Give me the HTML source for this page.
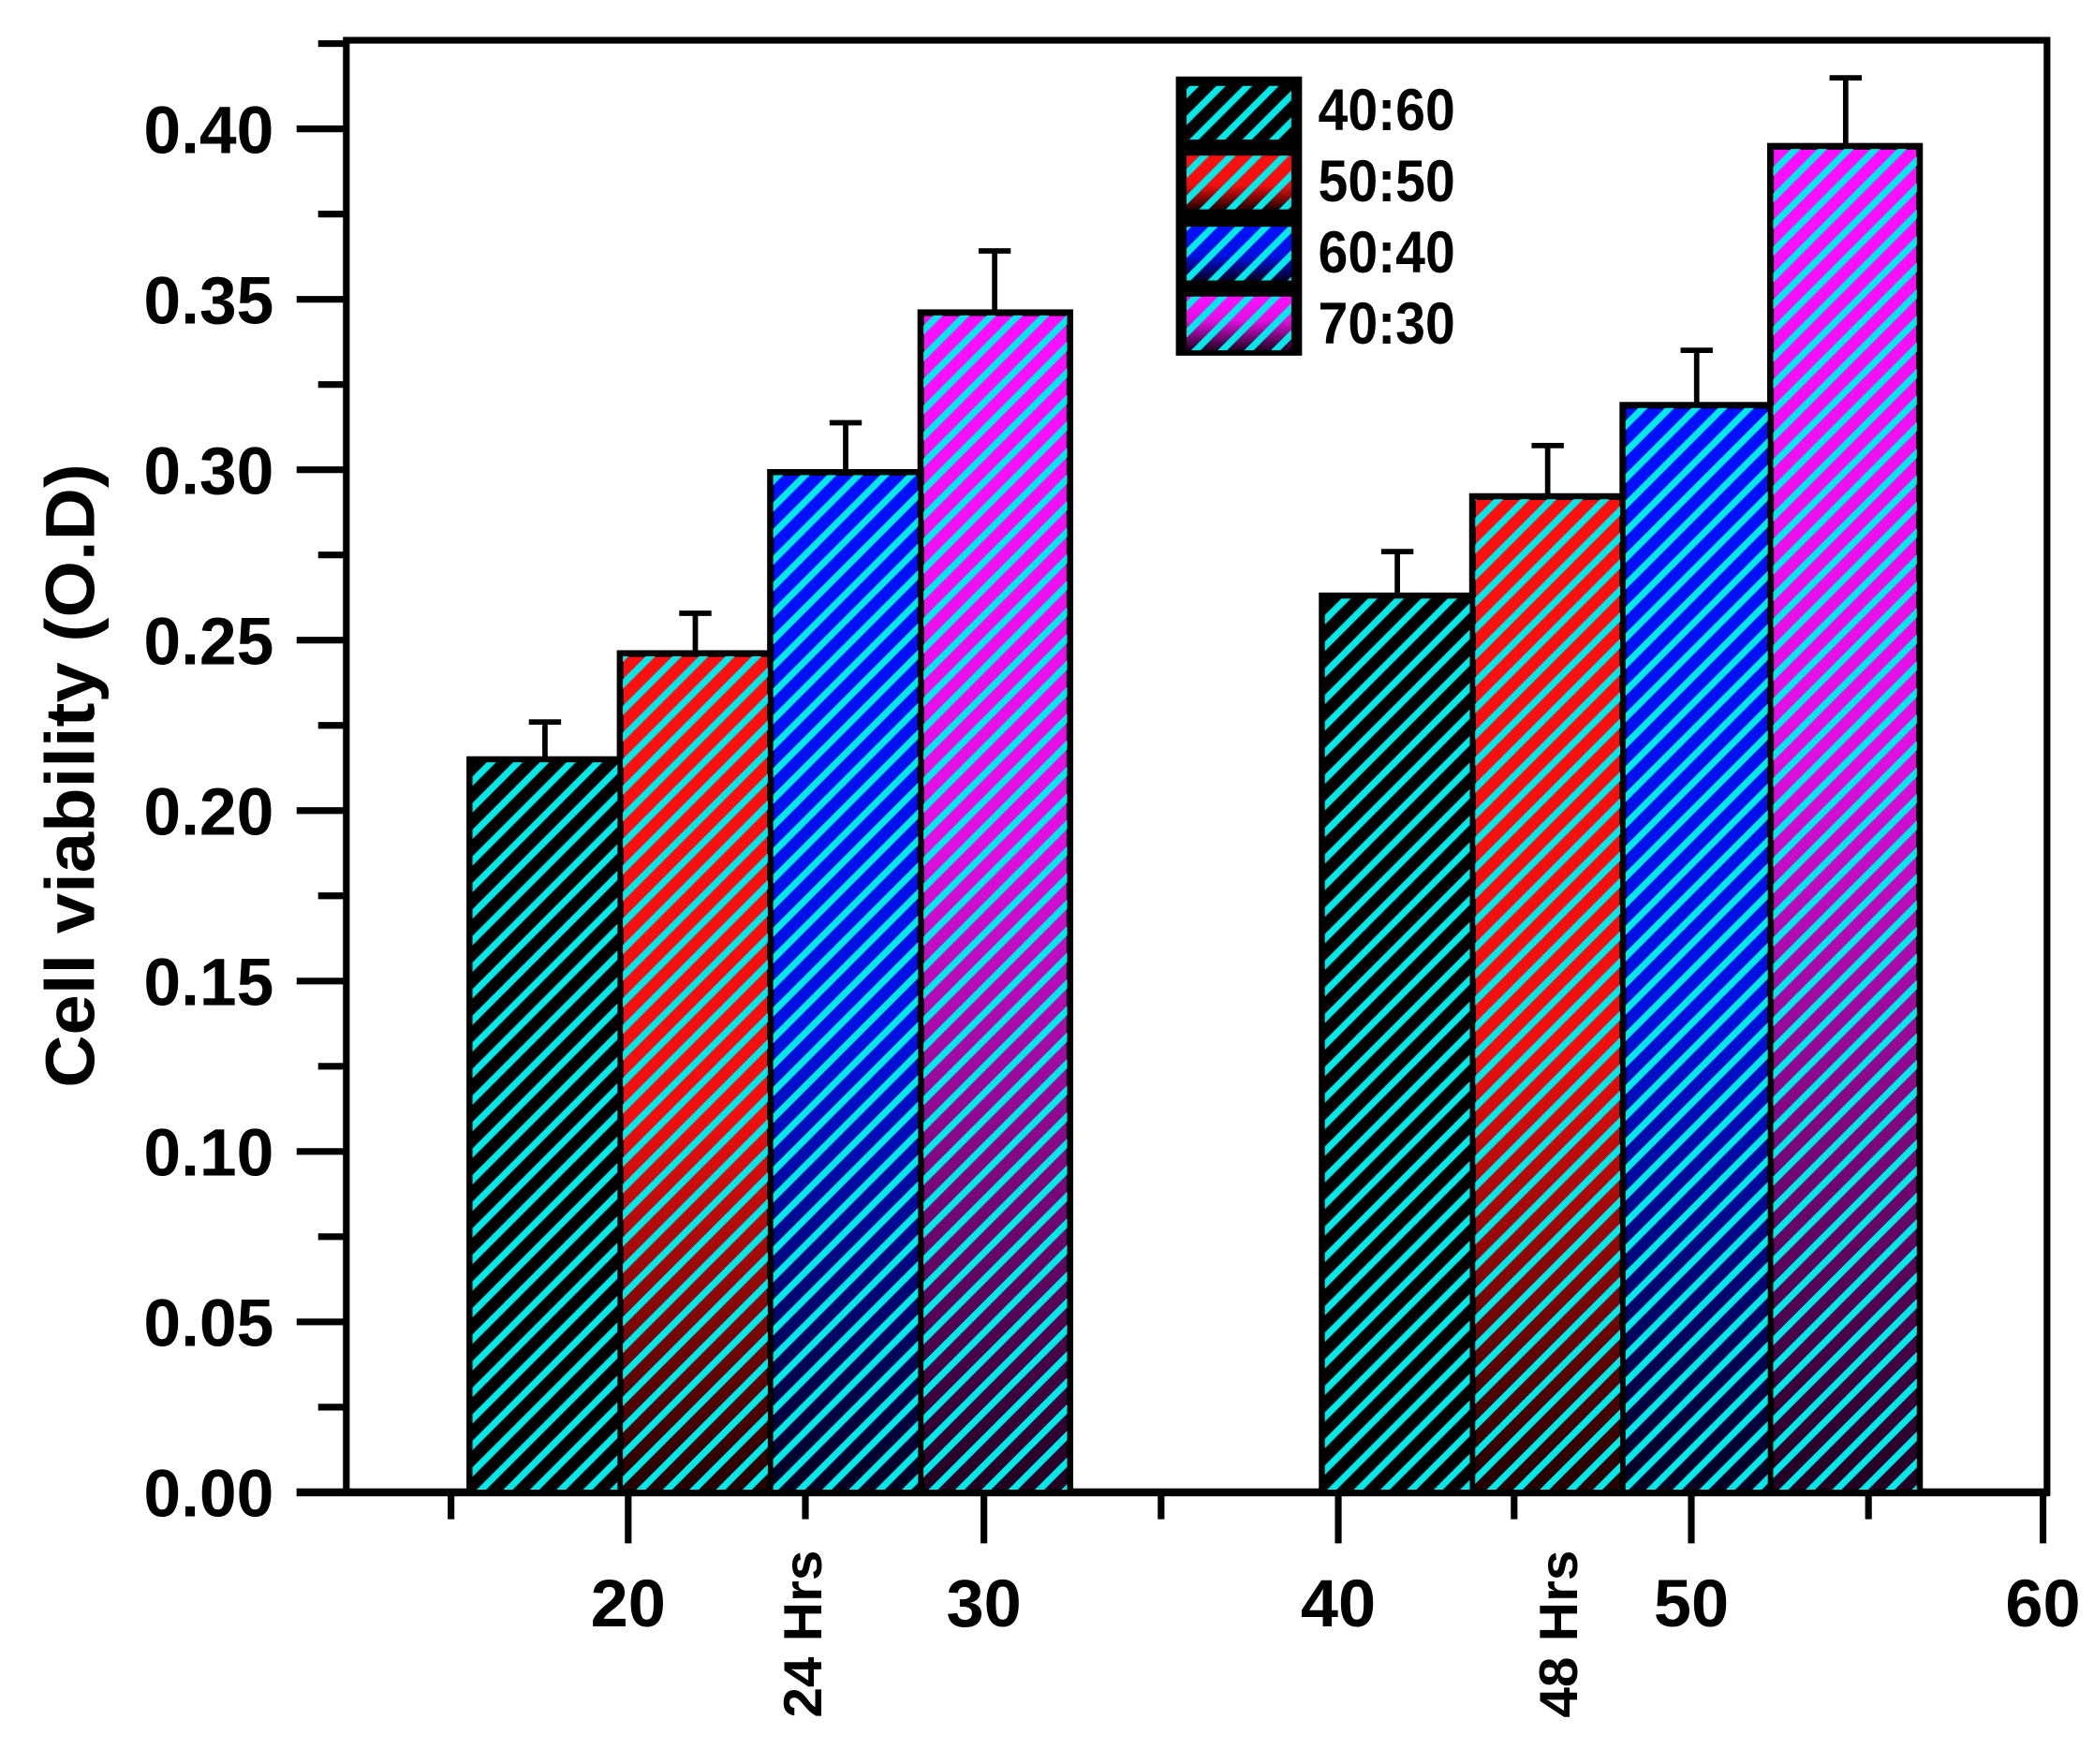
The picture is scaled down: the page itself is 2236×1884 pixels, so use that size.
<!DOCTYPE html>
<html><head><meta charset="utf-8"><style>html,body{margin:0;padding:0;background:#fff}svg{display:block}</style></head>
<body>
<svg width="2236" height="1884" viewBox="0 0 1560 1314.4" xmlns="http://www.w3.org/2000/svg" font-family="Liberation Sans, Arial, sans-serif" font-weight="bold">
<defs>
<pattern id="h" patternUnits="userSpaceOnUse" width="14" height="14" patternTransform="rotate(45)">
<rect x="0" y="0" width="5" height="14" fill="#00e8e8"/>
</pattern>
<linearGradient id="gr" x1="0" y1="0" x2="0" y2="1"><stop offset="0" stop-color="#ff1010"/><stop offset="0.55" stop-color="#f01010"/><stop offset="1" stop-color="#200000"/></linearGradient>
<linearGradient id="gb" x1="0" y1="0" x2="0" y2="1"><stop offset="0" stop-color="#0010ff"/><stop offset="0.55" stop-color="#0010e0"/><stop offset="1" stop-color="#000020"/></linearGradient>
<linearGradient id="gm" x1="0" y1="0" x2="0" y2="1"><stop offset="0" stop-color="#ff10ff"/><stop offset="0.45" stop-color="#e010e0"/><stop offset="1" stop-color="#200020"/></linearGradient>
</defs>
<rect width="1560" height="1315" fill="#fff"/>
<rect x="258" y="30" width="1267" height="1082" fill="none" stroke="#000" stroke-width="5"/>
<line x1="221" y1="1112" x2="1527" y2="1112" stroke="#000" stroke-width="6"/>
<g stroke="#000" stroke-width="5">
<line x1="221" y1="1112" x2="258" y2="1112"/><line x1="237" y1="1048.5" x2="258" y2="1048.5"/>
<line x1="221" y1="985" x2="258" y2="985"/><line x1="237" y1="921.5" x2="258" y2="921.5"/>
<line x1="221" y1="858" x2="258" y2="858"/><line x1="237" y1="794.5" x2="258" y2="794.5"/>
<line x1="221" y1="731" x2="258" y2="731"/><line x1="237" y1="667.5" x2="258" y2="667.5"/>
<line x1="221" y1="604" x2="258" y2="604"/><line x1="237" y1="540.5" x2="258" y2="540.5"/>
<line x1="221" y1="477" x2="258" y2="477"/><line x1="237" y1="413.5" x2="258" y2="413.5"/>
<line x1="221" y1="350" x2="258" y2="350"/><line x1="237" y1="286.5" x2="258" y2="286.5"/>
<line x1="221" y1="223" x2="258" y2="223"/><line x1="237" y1="159.5" x2="258" y2="159.5"/>
<line x1="221" y1="96" x2="258" y2="96"/><line x1="237" y1="32.5" x2="258" y2="32.5"/>
</g>
<g font-size="50" fill="#000" lengthAdjust="spacingAndGlyphs">
<text x="107" y="1130" textLength="97" lengthAdjust="spacingAndGlyphs">0.00</text>
<text x="107" y="1003" textLength="97" lengthAdjust="spacingAndGlyphs">0.05</text>
<text x="107" y="876" textLength="97" lengthAdjust="spacingAndGlyphs">0.10</text>
<text x="107" y="749" textLength="97" lengthAdjust="spacingAndGlyphs">0.15</text>
<text x="107" y="622" textLength="97" lengthAdjust="spacingAndGlyphs">0.20</text>
<text x="107" y="495" textLength="97" lengthAdjust="spacingAndGlyphs">0.25</text>
<text x="107" y="368" textLength="97" lengthAdjust="spacingAndGlyphs">0.30</text>
<text x="107" y="241" textLength="97" lengthAdjust="spacingAndGlyphs">0.35</text>
<text x="107" y="114" textLength="97" lengthAdjust="spacingAndGlyphs">0.40</text>
</g>
<text transform="translate(70,578) rotate(-90)" font-size="52" text-anchor="middle" fill="#000" textLength="465" lengthAdjust="spacingAndGlyphs">Cell viability (O.D)</text>
<g stroke="#000" stroke-width="5">
<line x1="468" y1="1112" x2="468" y2="1150"/><line x1="733" y1="1112" x2="733" y2="1150"/>
<line x1="997" y1="1112" x2="997" y2="1150"/><line x1="1260" y1="1112" x2="1260" y2="1150"/>
<line x1="1522" y1="1112" x2="1522" y2="1150"/>
<line x1="336" y1="1112" x2="336" y2="1132"/><line x1="600" y1="1112" x2="600" y2="1132"/>
<line x1="865" y1="1112" x2="865" y2="1132"/><line x1="1128" y1="1112" x2="1128" y2="1132"/>
<line x1="1392" y1="1112" x2="1392" y2="1132"/>
</g>
<g font-size="50" fill="#000">
<text x="440" y="1212" textLength="56" lengthAdjust="spacingAndGlyphs">20</text>
<text x="705" y="1212" textLength="56" lengthAdjust="spacingAndGlyphs">30</text>
<text x="969" y="1212" textLength="56" lengthAdjust="spacingAndGlyphs">40</text>
<text x="1232" y="1212" textLength="56" lengthAdjust="spacingAndGlyphs">50</text>
<text x="1494" y="1212" textLength="56" lengthAdjust="spacingAndGlyphs">60</text>
</g>
<text transform="translate(612,1280) rotate(-90)" font-size="40" fill="#000" textLength="125" lengthAdjust="spacingAndGlyphs">24 Hrs</text>
<text transform="translate(1175,1280) rotate(-90)" font-size="40" fill="#000" textLength="125" lengthAdjust="spacingAndGlyphs">48 Hrs</text>
<g stroke="#000" stroke-width="4">
<line x1="406" y1="566" x2="406" y2="538"/><line x1="394" y1="538" x2="418" y2="538"/>
<line x1="518" y1="487" x2="518" y2="457"/><line x1="506" y1="457" x2="530" y2="457"/>
<line x1="630" y1="352" x2="630" y2="315"/><line x1="618" y1="315" x2="642" y2="315"/>
<line x1="741" y1="233" x2="741" y2="187"/><line x1="729" y1="187" x2="753" y2="187"/>
<line x1="1041" y1="444" x2="1041" y2="411"/><line x1="1029" y1="411" x2="1053" y2="411"/>
<line x1="1153" y1="370" x2="1153" y2="332"/><line x1="1141" y1="332" x2="1165" y2="332"/>
<line x1="1264" y1="302" x2="1264" y2="261"/><line x1="1252" y1="261" x2="1276" y2="261"/>
<line x1="1375" y1="109" x2="1375" y2="58"/><line x1="1363" y1="58" x2="1387" y2="58"/>
</g>
<g stroke="#000" stroke-width="5">
<rect x="350" y="566" width="112" height="546" fill="#000"/>
<rect x="462" y="487" width="112" height="625" fill="url(#gr)"/>
<rect x="574" y="352" width="112" height="760" fill="url(#gb)"/>
<rect x="686" y="233" width="111" height="879" fill="url(#gm)"/>
<rect x="985" y="444" width="112" height="668" fill="#000"/>
<rect x="1097" y="370" width="112" height="742" fill="url(#gr)"/>
<rect x="1209" y="302" width="110" height="810" fill="url(#gb)"/>
<rect x="1319" y="109" width="111" height="1003" fill="url(#gm)"/>
</g>
<g fill="url(#h)">
<rect x="352" y="568" width="108" height="542"/><rect x="464" y="489" width="108" height="621"/>
<rect x="576" y="354" width="108" height="756"/><rect x="688" y="235" width="107" height="875"/>
<rect x="987" y="446" width="108" height="664"/><rect x="1099" y="372" width="108" height="738"/>
<rect x="1211" y="304" width="106" height="806"/><rect x="1321" y="111" width="107" height="999"/>
</g>
<rect x="876" y="57" width="94" height="208" fill="#000"/>
<rect x="884" y="64" width="78" height="40" fill="url(#h)"/>
<rect x="884" y="116" width="78" height="40" fill="url(#gr)"/><rect x="884" y="116" width="78" height="40" fill="url(#h)"/>
<rect x="884" y="169" width="78" height="40" fill="url(#gb)"/><rect x="884" y="169" width="78" height="40" fill="url(#h)"/>
<rect x="884" y="221" width="78" height="40" fill="url(#gm)"/><rect x="884" y="221" width="78" height="40" fill="url(#h)"/>
<g font-size="44" fill="#000">
<text x="982" y="97" textLength="102" lengthAdjust="spacingAndGlyphs">40:60</text>
<text x="982" y="150" textLength="102" lengthAdjust="spacingAndGlyphs">50:50</text>
<text x="982" y="203" textLength="102" lengthAdjust="spacingAndGlyphs">60:40</text>
<text x="982" y="256" textLength="102" lengthAdjust="spacingAndGlyphs">70:30</text>
</g>
</svg>
</body></html>
